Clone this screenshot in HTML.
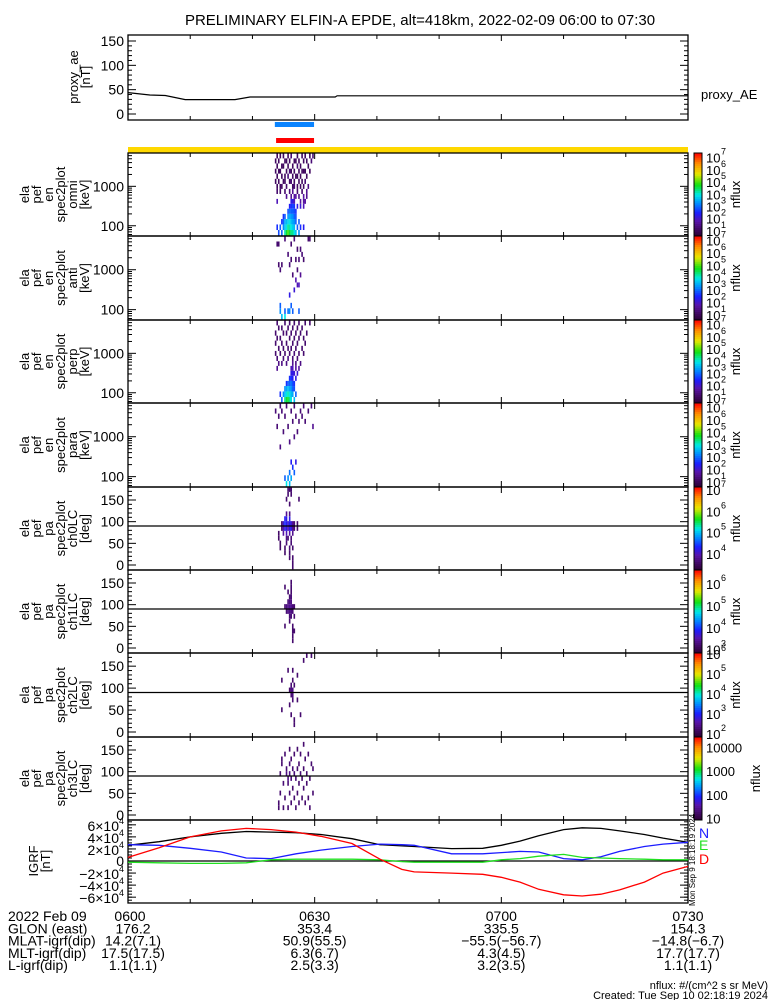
<!DOCTYPE html>
<html><head><meta charset="utf-8"><style>
body{margin:0;background:#fff;}
svg{display:block;font-family:"Liberation Sans",sans-serif;}
text{fill:#000;}
</style></head><body>
<svg id="chart" width="775" height="1000" viewBox="0 0 775 1000" xmlns="http://www.w3.org/2000/svg">
<rect width="775" height="1000" fill="#fff"/>
<text x="420" y="25" font-size="15" text-anchor="middle">PRELIMINARY ELFIN-A EPDE, alt=418km, 2022-02-09 06:00 to 07:30</text>
<g id="g"></g>
</svg>
<script>
// ---------- data ----------
const tickTimes = [0, 30, 60, 90];
const tickLabels = ["0600", "0630", "0700", "0730"];
const aeTimes = [0, 3.5, 6, 9.2, 17.2, 19.6, 33.3, 33.6, 90];
const aeValues = [44, 39, 38, 29.5, 29.5, 35, 35, 37.5, 37.5];
const igrfTimes = [0, 5, 10, 15, 19, 23, 27, 31, 36, 40.5, 44, 46, 52, 57, 60, 63, 66, 70, 73, 76, 79, 83, 86, 90];
const igrfTotal = [2.6, 3.2, 4.0, 4.6, 4.9, 4.8, 4.7, 4.4, 3.7, 2.7, 2.5, 2.4, 2.05, 2.1, 2.6, 3.3, 4.2, 5.2, 5.5, 5.4, 5.0, 4.4, 3.8, 3.1];
const igrfN = [2.7, 2.6, 2.1, 1.5, 0.5, 0.4, 1.2, 1.8, 2.4, 2.8, 2.7, 2.6, 1.2, 1.2, 1.4, 1.6, 1.5, 0.4, 0.2, 0.7, 1.6, 2.4, 2.8, 3.1];
const igrfE = [-0.2, -0.3, -0.4, -0.4, -0.3, 0.2, 0.3, 0.3, 0.3, 0.2, -0.1, -0.2, -0.2, -0.2, 0.2, 0.4, 0.8, 1.1, 0.6, 0.5, 0.4, 0.3, 0.2, 0.2];
const igrfD = [0.6, 2.2, 4.0, 5.0, 5.4, 5.2, 4.8, 4.1, 2.9, 0.3, -1.4, -1.8, -2.0, -2.2, -2.7, -3.5, -4.7, -5.6, -5.8, -5.5, -4.8, -3.5, -2.0, -0.9];
const eEdges = [55, 78, 108, 148, 200, 270, 360, 480, 640, 860, 1150, 1550, 2100, 2800, 3800, 5100, 7000];
const specT0 = 23.6, specDt = 0.25;
// cells: [column, bin, level 0..1]
const omniCells = [[6,0,.48],[7,0,.55],[8,0,.6],[9,0,.55],[10,0,.5],[11,0,.5],[12,0,.45],[13,0,.4],[15,0,.35],[4,0,.3],[2,0,.28],
[3,1,.3],[5,1,.35],[6,1,.4],[7,1,.45],[8,1,.5],[9,1,.48],[10,1,.45],[11,1,.42],[12,1,.4],[14,1,.3],[16,1,.25],[18,1,.22],[1,1,.25],
[5,2,.3],[6,2,.38],[7,2,.4],[8,2,.42],[9,2,.45],[10,2,.4],[11,2,.38],[12,2,.35],[13,2,.3],[15,2,.3],[4,2,.25],
[6,3,.3],[8,3,.35],[9,3,.38],[10,3,.36],[11,3,.35],[12,3,.3],[13,3,.28],[5,3,.25],
[8,4,.28],[9,4,.32],[10,4,.3],[11,4,.3],[12,4,.28],[13,4,.25],
[10,5,.25],[11,5,.27],[12,5,.25],[9,5,.22],[14,5,.2],[16,5,.18],[18,5,.15],
[10,6,.2],[11,6,.2],[12,6,.15],[1,6,.15],[16,6,.12],[18,6,.12],[19,6,.12],
[7,7,.1],[10,7,.1],[12,7,.12],[13,7,.12],[15,7,.1],[18,7,.12],[20,7,.1],
[1,8,.05],[3,8,.04],[6,8,.05],[9,8,.06],[11,8,.1],[14,8,.05],[17,8,.05],[20,8,.1],
[1,9,.03],[3,9,.03],[4,9,.03],[7,9,.04],[11,9,.03],[12,9,.06],[14,9,.03],[16,9,.03],[18,9,.03],[21,9,.08],
[0,10,.03],[2,10,.03],[5,10,.03],[6,10,.03],[9,10,.03],[10,10,.06],[12,10,.03],[15,10,.03],[17,10,.03],[19,10,.06],
[1,11,.03],[4,11,.03],[6,11,.03],[8,11,.06],[11,11,.03],[13,11,.03],[14,11,.03],[16,11,.03],[20,11,.03],
[0,12,.03],[2,12,.03],[3,12,.03],[7,12,.03],[9,12,.06],[10,12,.03],[12,12,.03],[15,12,.03],[17,12,.03],[18,12,.03],[19,12,.03],[22,12,.03],
[1,13,.03],[4,13,.03],[5,13,.03],[8,13,.03],[11,13,.03],[14,13,.06],[16,13,.03],[21,13,.03],
[0,14,.03],[2,14,.03],[6,14,.03],[7,14,.03],[9,14,.03],[12,14,.03],[13,14,.03],[15,14,.03],[18,14,.03],[20,14,.03],[23,14,.06],
[1,15,.03],[3,15,.03],[5,15,.03],[8,15,.03],[10,15,.06],[14,15,.03],[17,15,.03],[19,15,.03],[22,15,.03],[24,15,.06]];
const antiCells = [[6,0,.45],[4,0,.4],[9,1,.35],[6,1,.3],[8,1,.32],[3,1,.35],[11,1,.3],[15,1,.3],[3,2,.3],[10,2,.3],
[9,4,.2],[12,5,.18],[14,6,.15],[15,6,.15],[13,7,.14],[16,8,.1],[11,8,.06],[3,9,.06],[14,9,.06],
[2,10,.05],[4,10,.05],[9,10,.06],[10,11,.05],[13,11,.05],[15,11,.06],[18,11,.05],[8,12,.06],[17,12,.06],
[14,13,.05],[16,13,.06],[1,14,.05],[2,14,.05],[10,14,.05],[12,15,.06],[6,15,.06],[21,15,.05],[22,15,.05]];
const perpCells = [[6,0,.5],[7,0,.55],[8,0,.55],[9,0,.5],[10,0,.45],[12,0,.4],[4,0,.3],
[5,1,.35],[6,1,.4],[7,1,.45],[8,1,.48],[9,1,.45],[10,1,.4],[11,1,.38],[13,1,.3],[3,1,.25],
[6,2,.35],[7,2,.38],[8,2,.4],[9,2,.38],[10,2,.35],[11,2,.3],[12,2,.28],
[8,3,.3],[9,3,.3],[10,3,.32],[11,3,.28],[7,3,.25],[12,3,.25],
[9,4,.25],[10,4,.25],[11,4,.22],[13,4,.2],
[10,5,.2],[11,5,.2],[12,5,.18],[14,5,.18],
[10,6,.15],[11,6,.15],[13,6,.12],[15,6,.12],[1,6,.1],
[2,7,.08],[4,7,.08],[7,7,.08],[11,7,.1],[13,7,.08],[16,7,.08],
[1,8,.06],[5,8,.06],[8,8,.08],[11,8,.06],[14,8,.06],
[0,9,.05],[3,9,.05],[6,9,.05],[9,9,.05],[12,9,.06],[15,9,.05],[18,9,.05],
[2,10,.05],[5,10,.05],[8,10,.05],[10,10,.05],[13,10,.05],[17,10,.05],
[0,11,.05],[4,11,.05],[7,11,.05],[11,11,.05],[14,11,.05],[19,11,.05],
[1,12,.05],[3,12,.05],[9,12,.05],[12,12,.05],[15,12,.05],[18,12,.05],
[0,13,.05],[5,13,.05],[7,13,.05],[10,13,.05],[13,13,.05],[16,13,.05],[20,13,.05],
[2,14,.05],[4,14,.05],[8,14,.05],[11,14,.05],[14,14,.05],[17,14,.05],
[1,15,.05],[6,15,.05],[9,15,.05],[12,15,.05],[15,15,.05],[19,15,.05],[22,15,.05]];
const paraCells = [[7,0,.45],[9,0,.4],[8,1,.35],[10,1,.38],[6,1,.3],[12,2,.3],[9,2,.32],[11,3,.25],[10,4,.22],[13,4,.2],
[3,7,.08],[9,8,.08],[12,9,.08],[5,10,.06],[14,10,.06],[1,11,.06],[8,11,.06],[11,12,.06],[15,12,.06],[19,12,.06],
[2,13,.06],[6,13,.06],[13,13,.06],[17,13,.06],[0,14,.06],[4,14,.06],[10,14,.06],[16,14,.06],[21,14,.06],
[3,15,.06],[7,15,.06],[12,15,.06],[18,15,.06],[23,15,.06],[24,11,.1]];
const paEdges = [-10, 11.25, 22.5, 33.75, 45, 56.25, 67.5, 78.75, 90, 101.25, 112.5, 123.75, 135, 146.25, 157.5, 168.75, 180];
const ch0Cells = [[2,5,.04],[2,6,.04],[3,3,.04],[3,4,.04],[4,7,.04],[4,8,.04],[5,6,.12],[5,7,.15],[5,8,.18],[6,7,.2],[6,8,.25],[6,9,.22],[6,2,.04],[6,3,.04],
[7,4,.06],[7,5,.08],[7,6,.15],[7,7,.2],[7,8,.22],[7,9,.2],[7,10,.1],[7,13,.05],[8,7,.15],[8,8,.18],[8,5,.06],[8,14,.05],[8,15,.05],
[9,1,.05],[9,2,.05],[9,3,.06],[9,6,.12],[9,7,.2],[9,8,.22],[9,9,.2],[9,10,.08],[9,12,.05],[9,15,.05],
[10,7,.2],[10,8,.18],[10,4,.06],[10,5,.06],[10,14,.05],[10,15,.05],[11,0,.05],[11,1,.05],[11,3,.05],[11,6,.1],[11,7,.1],[11,8,.1],
[12,7,.06],[12,8,.06],[14,8,.05],[14,7,.05],[15,13,.05]];
const ch1Cells = [[6,8,.05],[6,12,.05],[6,4,.05],[7,7,.06],[7,8,.08],[8,7,.08],[8,8,.08],[8,9,.06],[8,11,.05],
[9,5,.05],[9,6,.06],[9,7,.08],[9,8,.1],[9,9,.08],[9,10,.06],[10,6,.06],[10,7,.08],[10,8,.1],[10,9,.08],[10,10,.06],[10,11,.05],[10,12,.05],[10,13,.05],
[11,2,.05],[11,3,.05],[11,4,.05],[11,7,.06],[11,8,.06],[11,1,.05],[12,3,.05],[12,8,.05],[12,6,.05]];
const ch2Cells = [[4,4,.05],[4,10,.05],[8,12,.05],[9,8,.05],[9,5,.05],[10,7,.06],[10,8,.08],[10,9,.06],[10,3,.05],[11,6,.06],[11,7,.07],[11,8,.08],[11,10,.05],[11,12,.05],
[12,1,.05],[12,2,.05],[12,9,.05],[14,6,.05],[14,11,.05],[16,3,.05],[18,14,.05],[20,15,.05],[23,15,.05],[24,16,.05]];
const ch3Cells = [[2,1,.05],[2,2,.05],[3,4,.05],[3,8,.05],[4,10,.05],[4,11,.05],[5,1,.05],[5,6,.06],[6,12,.05],[6,3,.05],[7,8,.08],[7,9,.06],[8,6,.06],[8,7,.08],[8,1,.05],
[9,4,.05],[9,8,.08],[9,10,.06],[9,13,.05],[10,2,.05],[10,7,.07],[10,11,.05],[11,5,.05],[11,9,.06],[12,3,.05],[12,8,.06],[12,12,.05],
[13,1,.05],[13,7,.06],[14,4,.05],[14,9,.05],[14,13,.05],[15,2,.05],[15,6,.05],[15,10,.05],[16,8,.06],[16,12,.05],[17,3,.05],[17,7,.05],
[18,5,.05],[18,9,.05],[18,14,.05],[19,2,.05],[19,11,.05],[20,6,.05],[20,8,.05],[21,3,.05],[21,12,.05],[22,1,.05],[22,7,.05],[23,10,.05],[24,4,.05],[24,9,.05]];

// ---------- layout ----------
const X0 = 128, X1 = 688;
const NS = "http://www.w3.org/2000/svg";
const g = document.getElementById('g');
function xT(t){ return X0 + t/90*(X1-X0); }
function mk(tag, attrs, parent){ const e=document.createElementNS(NS,tag); for(const k in attrs) e.setAttribute(k,attrs[k]); (parent||g).appendChild(e); return e; }
function txt(x,y,s,size,anchor,parent){ const e=mk('text',{x:x,y:y,'font-size':size||13,'text-anchor':anchor||'start'},parent); e.textContent=s; return e; }
const stops = [[0,'#2a0030'],[0.08,'#400860'],[0.18,'#5a14a8'],[0.28,'#1c1cff'],[0.4,'#0090ff'],[0.5,'#00e8e8'],[0.62,'#10e010'],[0.75,'#e8e800'],[0.88,'#ff8c00'],[1,'#ff0000']];
function hex(c){ return [parseInt(c.substr(1,2),16),parseInt(c.substr(3,2),16),parseInt(c.substr(5,2),16)]; }
function cmap(v){ v=Math.max(0,Math.min(1,v)); for(let i=1;i<stops.length;i++){ if(v<=stops[i][0]){ const a=stops[i-1],b=stops[i]; const f=(v-a[0])/(b[0]-a[0]); const ca=hex(a[1]),cb=hex(b[1]); return 'rgb('+ca.map((q,j)=>Math.round(q+(cb[j]-q)*f)).join(',')+')'; } } return '#f00'; }
function cellColor(v){ return cmap(v+0.05); }

function frame(top,bot,name){
  const r=mk('rect',{x:X0,y:top,width:X1-X0,height:bot-top,fill:'none',stroke:'#000','stroke-width':1.3});
  
  
  for(let t=0;t<=90;t+=5){ const L=(t%30===0)?6:(t%10===0?4:0); if(!L) continue; const x=xT(t);
    mk('line',{x1:x,x2:x,y1:top,y2:top+L,stroke:'#000'}); mk('line',{x1:x,x2:x,y1:bot,y2:bot-L,stroke:'#000'}); }
}
function yticks(top,bot,vals,fy,labels,minor){
  vals.forEach((v,i)=>{ const y=fy(v); mk('line',{x1:X0,x2:X0+8,y1:y,y2:y,stroke:'#000'}); mk('line',{x1:X1,x2:X1-8,y1:y,y2:y,stroke:'#000'});
    txt(X0-4,y+5,labels[i],14,'end'); });
  (minor||[]).forEach(v=>{ const y=fy(v); if(y<top||y>bot) return; mk('line',{x1:X0,x2:X0+4,y1:y,y2:y,stroke:'#000'}); mk('line',{x1:X1,x2:X1-4,y1:y,y2:y,stroke:'#000'}); });
}
function ylabel(cx,cy,lines,name){
  const gg=mk('g',{});
  
  
  const n=lines.length;
  lines.forEach((s,i)=>{ const x=cx-(n-1)*6+i*12; const t=txt(0,0,s,13,'middle',gg); t.setAttribute('transform','translate('+(x+4)+','+cy+') rotate(-90)'); });
}
function colorbar(top,bot,lmin,lmax,labs,name){
  const gg=mk('g',{});
  
  
  const n=40;
  for(let i=0;i<n;i++){ const y=bot-(i+1)*(bot-top)/n; mk('rect',{x:694,y:y,width:8,height:(bot-top)/n+0.5,fill:cmap((i+0.5)/n)},gg); }
  mk('rect',{x:694,y:top,width:8,height:bot-top,fill:'none',stroke:'#000','stroke-width':1},gg);
  labs.forEach(L=>{ const y=bot-(L[0]-lmin)/(lmax-lmin)*(bot-top); if(y<top-4||y>bot+4) return;
    if(L[2]){ txt(706,y+6,'10',13,'start',gg); txt(721,y-2,String(L[1]),9,'start',gg); }
    else txt(706,y+6,String(L[1]),13,'start',gg); });
  const w=mk('text',{'font-size':13,'text-anchor':'middle',transform:'translate('+(labs[0][2]?740:760)+','+((top+bot)/2)+') rotate(-90)'},gg); w.textContent='nflux';
}

// ---------- proxy AE ----------
(function(){
  const top=35,bot=120; const fy=v=>114-(v/150)*73;
  frame(top,bot,'proxy-ae-panel');
  yticks(top,bot,[0,50,100,150],fy,['0','50','100','150'],[10,20,30,40,60,70,80,90,110,120,130,140]);
  ylabel(80,77,['proxy_ae','[nT]'],'proxy-ae-y-title');
  let d=''; aeTimes.forEach((t,i)=>{ d+=(i?'L':'M')+xT(t).toFixed(1)+','+fy(aeValues[i]).toFixed(1); });
  const p=mk('path',{d:d,fill:'none',stroke:'#000','stroke-width':1.2});
  
  
  const l=txt(701,99,'proxy_AE',13);  
  const b1=mk('rect',{x:xT(23.6),y:122,width:xT(29.9)-xT(23.6),height:5,fill:'#0a84ff'});
  
  
  const b2=mk('rect',{x:xT(23.8),y:138,width:xT(29.9)-xT(23.8),height:5,fill:'#ff0000'});
  
  
  const b3=mk('rect',{x:X0,y:147,width:X1-X0,height:6,fill:'#ffd800'});
  
  
})();

// ---------- energy spectrograms ----------
const ePanels = [[153,236,omniCells,'omni'],[236,320,antiCells,'anti'],[320,403,perpCells,'perp'],[403,487,paraCells,'para']];
const eMin=Math.log10(55), eMax=Math.log10(7000);
ePanels.forEach((P,k)=>{
  const top=P[0],bot=P[1],cells=P[2];
  const fy=v=>bot-(Math.log10(v)-eMin)/(eMax-eMin)*(bot-top);
  cells.forEach(c=>{ const x=xT(specT0+c[0]*specDt); const y1=fy(eEdges[c[1]+1]), y0=fy(eEdges[c[1]]);
    const r=mk('rect',{x:x,y:y1,width:1.6,height:y0-y1,fill:cellColor(c[2])});
    
     });
  frame(top,bot,'energy-'+P[3]+'-panel');
  const minor=[60,70,80,90,200,300,400,500,600,700,800,900,2000,3000,4000,5000,6000];
  yticks(top,bot,[100,1000],fy,['100','1000'],minor);
  ylabel(55,(top+bot)/2,['ela','pef','en','spec2plot',P[3],'[keV]'],'energy-'+P[3]+'-y-title');
  colorbar(top,bot,0.5,7.3,[[7,7,1],[6,6,1],[5,5,1],[4,4,1],[3,3,1],[2,2,1],[1,1,1]],'colorbar-energy-'+P[3]);
});

// ---------- pitch-angle spectrograms ----------
const paPanels = [[487,570,ch0Cells,'ch0LC',3.2,7.1,[[7,7,1],[6,6,1],[5,5,1],[4,4,1]]],
 [570,653,ch1Cells,'ch1LC',2.8,6.6,[[6,6,1],[5,5,1],[4,4,1],[3,3,1]]],
 [653,737,ch2Cells,'ch2LC',1.8,6.0,[[6,6,1],[5,5,1],[4,4,1],[3,3,1],[2,2,1]]],
 [737,820,ch3Cells,'ch3LC',0.9,4.4,[[4,'10000'],[3,'1000'],[2,'100'],[1,'10']]]];
paPanels.forEach(P=>{
  const top=P[0],bot=P[1],cells=P[2];
  const fy=v=>bot-5-(v/180)*(bot-top-5);
  cells.forEach(c=>{ const x=xT(specT0+c[0]*specDt); const y1=fy(paEdges[c[1]+1]||180), y0=fy(Math.max(paEdges[c[1]],-10));
    const r=mk('rect',{x:x,y:Math.max(top,y1),width:1.6,height:Math.min(bot,y0)-Math.max(top,y1),fill:cellColor(c[2])});
    
     });
  frame(top,bot,'pa-'+P[3]+'-panel');
  const h=mk('line',{x1:X0,x2:X1,y1:fy(90),y2:fy(90),stroke:'#000','stroke-width':1.2});
  
  
  yticks(top,bot,[0,50,100,150],fy,['0','50','100','150'],[10,20,30,40,60,70,80,90,110,120,130,140,160,170,180]);
  ylabel(55,(top+bot)/2,['ela','pef','pa','spec2plot',P[3],'[deg]'],'pa-'+P[3]+'-y-title');
  colorbar(top,bot,P[4],P[5],P[6].map(L=>L.length===3?L:[L[0],L[1],0]),'colorbar-pa-'+P[3]);
});

// ---------- IGRF ----------
(function(){
  const top=820,bot=903; const fy=v=>861-v/6.8*41;
  frame(top,bot,'igrf-panel');
  mk('line',{x1:X0,x2:X1,y1:fy(0),y2:fy(0),stroke:'#000','stroke-width':1.2});
  [[-6,'−6×10'],[-4,'−4×10'],[-2,'−2×10'],[0,''],[2,'2×10'],[4,'4×10'],[6,'6×10']].forEach(L=>{ const y=fy(L[0]);
    mk('line',{x1:X0,x2:X0+8,y1:y,y2:y,stroke:'#000'}); mk('line',{x1:X1,x2:X1-8,y1:y,y2:y,stroke:'#000'});
    if(L[0]===0) txt(X0-4,y+5,'0',14,'end'); else { txt(X0-9,y+6,L[1],14,'end'); txt(X0-9,y-1,'4',9,'start'); } });
  for(let v=-6.5;v<=6.5;v+=0.5){ const y=fy(v); if(y<top||y>bot) continue; mk('line',{x1:X0,x2:X0+4,y1:y,y2:y,stroke:'#000'}); mk('line',{x1:X1,x2:X1-4,y1:y,y2:y,stroke:'#000'}); }
  ylabel(40,861,['IGRF','[nT]'],'igrf-y-title');
  [[igrfTotal,'#000','igrf-total-line'],[igrfN,'#1c1cff','igrf-n-line'],[igrfE,'#20e020','igrf-e-line'],[igrfD,'#ff0000','igrf-d-line']].forEach(S=>{
    let d=''; igrfTimes.forEach((t,i)=>{ d+=(i?'L':'M')+xT(t).toFixed(1)+','+fy(S[0][i]).toFixed(1); });
    const p=mk('path',{d:d,fill:'none',stroke:S[1],'stroke-width':1.3});
    
     });
  [['N',838,'#1c1cff'],['E',850,'#20e020'],['D',864,'#ff0000']].forEach(L=>{ const t=txt(699,L[1],L[0],14); t.setAttribute('fill',L[2]); t.style.fill=L[2];
    
     });
  const s=mk('text',{'font-size':8,'text-anchor':'middle',transform:'translate(695,860) rotate(-90)'}); s.textContent='Mon Sep  9 18:18:19 2024';
})();

// ---------- bottom annotation ----------
const rowLabels = ['2022 Feb 09','GLON (east)','MLAT-igrf(dip)','MLT-igrf(dip)','L-igrf(dip)'];
const rowVals = [['0600','0630','0700','0730'],['176.2','353.4','335.5','154.3'],['14.2(7.1)','50.9(55.5)','-55.5(-56.7)','-14.8(-6.7)'],['17.5(17.5)','6.3(6.7)','4.3(4.5)','17.7(17.7)'],['1.1(1.1)','2.5(3.3)','3.2(3.5)','1.1(1.1)']];
rowLabels.forEach((lab,i)=>{ const y=921+i*12.3;
  const t=txt(8,y,lab,14);  
  rowVals[i].forEach((v,j)=>{ const x=j===0?(i===0?X0+2:X0+5):xT(tickTimes[j]); txt(x,y,v.replace(/-/g,'−'),14,'middle'); });
});
txt(768,989,'nflux: #/(cm^2 s sr MeV)',11,'end');
txt(768,999,'Created: Tue Sep 10 02:18:19 2024',11,'end');
</script>
</body></html>
